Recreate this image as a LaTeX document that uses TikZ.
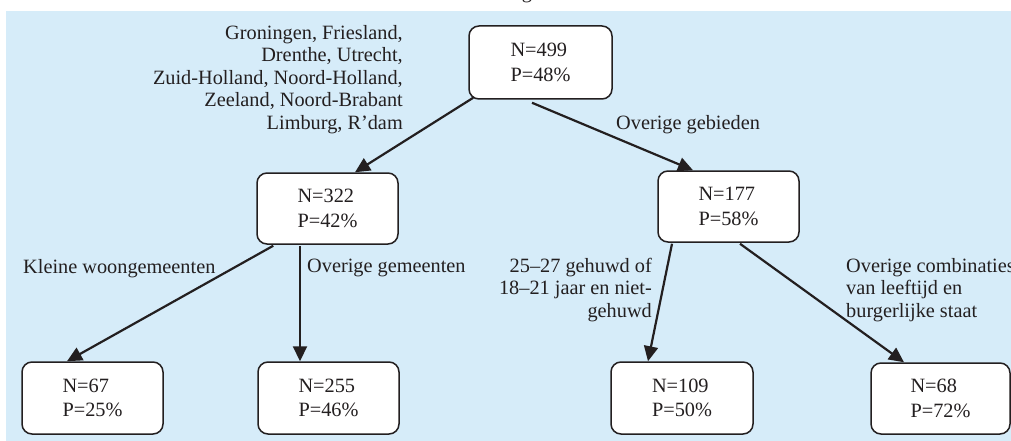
\documentclass[tikz,border=0pt]{standalone}
\usepackage{fontspec}
\setmainfont{Liberation Serif}
\usetikzlibrary{arrows.meta,calc}
\definecolor{bgblue}{RGB}{214,236,249}
\definecolor{ink}{RGB}{35,31,32}
\begin{document}
\begin{tikzpicture}[x=1pt,y=-1pt,
  every node/.style={font=\fontsize{20.3}{22.4}\selectfont, text=ink},
  box/.style={draw=ink, line width=1.5pt, fill=white, rounded corners=10pt,
    minimum width=141pt, minimum height=71pt, align=left, inner sep=0pt},
  lbl/.style={inner sep=0pt},
  arr/.style={draw=ink, line width=2.2pt, -{Triangle[length=15pt,width=14pt]}}]
\useasboundingbox (0,0) rectangle (1011,441);
\fill[bgblue] (6,11) rectangle (1011,441);
\node[lbl, anchor=base] (cut) at (527,-1) {g};
% boxes
\node[box, minimum width=143pt, minimum height=73pt] (root) at (540.5,62.5) {N=499\\[2pt]P=48\%};
\node[box] (a) at (327.5,208.5) {N=322\\[2pt]P=42\%};
\node[box] (b) at (728.5,206.5) {N=177\\[2pt]P=58\%};
\node[box, minimum height=72pt] (a1) at (92.5,398) {N=67\\[2pt]P=25\%};
\node[box, minimum height=72pt] (a2) at (328.5,398) {N=255\\[2pt]P=46\%};
\node[box, minimum width=142pt, minimum height=72pt] (b1) at (682,398) {N=109\\[2pt]P=50\%};
\node[box, minimum width=139pt] (b2) at (940.5,398.5) {N=68\\[2pt]P=72\%};
% labels
\node[lbl, anchor=base east, align=right] (l0) at (403,129)
  {Groningen, Friesland,\\Drenthe, Utrecht,\\Zuid-Holland, Noord-Holland,\\Zeeland, Noord-Brabant\\Limburg, R’dam};
\node[lbl, anchor=base west] (l1) at (616,129) {Overige gebieden};
\node[lbl, anchor=base west] (l2) at (23,273) {Kleine woongemeenten};
\node[lbl, anchor=base west] (l3) at (307,272) {Overige gemeenten};
\node[lbl, anchor=base east, align=right] (l4) at (652,317) {25–27 gehuwd of\\18–21 jaar en niet-\\gehuwd};
\node[lbl, anchor=base west, align=left] (l5) at (846,317) {Overige combinaties\\van leeftijd en\\burgerlijke staat};
% connectors
\draw[arr] ([xshift=5pt,yshift=2pt]root.south west) -- ([xshift=27.5pt]a.north);
\draw[arr] ([xshift=-8.5pt,yshift=-3pt]root.south) -- ([xshift=-35.5pt]b.north);
\draw[arr] ([xshift=17pt,yshift=-1pt]a.south west) -- ([xshift=-25.5pt]a1.north);
\draw[arr] ([xshift=-27.5pt,yshift=-1pt]a.south) -- ([xshift=-28.5pt]a2.north);
\draw[arr] ([xshift=-56.5pt,yshift=-1pt]b.south) -- ([xshift=-34pt]b1.north);
\draw[arr] ([xshift=11.5pt,yshift=-1pt]b.south) -- ([xshift=-36.5pt]b2.north);
\end{tikzpicture}
\end{document}
